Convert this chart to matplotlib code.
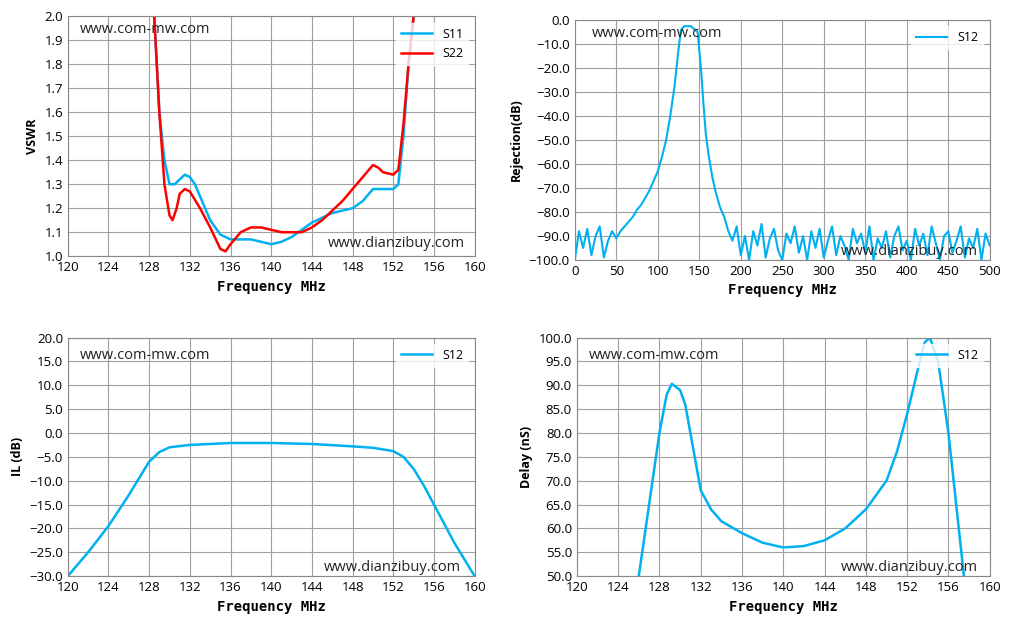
import numpy as np
import matplotlib.pyplot as plt

blue = '#00B0F0'
red = '#FF0000'

# VSWR
vswr_x11 = [128.5, 129, 129.5, 130, 130.5, 131, 131.5, 132, 132.5, 133, 134, 135, 136, 137, 138, 139, 140,
            141, 142, 143, 144, 145, 146, 147, 148, 149, 150, 151, 152, 152.5, 153, 153.5, 154]
vswr_s11 = [2.0, 1.6, 1.4, 1.3, 1.3, 1.32, 1.34, 1.33, 1.3, 1.25, 1.15, 1.09, 1.07, 1.07, 1.07, 1.06, 1.05,
            1.06, 1.08, 1.11, 1.14, 1.16, 1.18, 1.19, 1.2, 1.23, 1.28, 1.28, 1.28, 1.3, 1.5, 1.8, 2.0]
vswr_x22 = [128.5, 129, 129.5, 130, 130.3, 130.7, 131, 131.5, 132, 133, 134, 135, 135.5, 136, 137, 138, 139,
            140, 141, 142, 143, 144, 145, 146, 147, 148, 149, 150, 150.5, 151, 152, 152.5, 153, 153.5, 154]
vswr_s22 = [2.0, 1.6, 1.3, 1.17, 1.15, 1.2, 1.26, 1.28, 1.27, 1.2, 1.12, 1.03, 1.02, 1.05, 1.1, 1.12, 1.12,
            1.11, 1.1, 1.1, 1.1, 1.12, 1.15, 1.19, 1.23, 1.28, 1.33, 1.38, 1.37, 1.35, 1.34, 1.36, 1.55, 1.8, 2.0]

# Rejection (wideband)
rej_x = [0, 5, 10, 15, 20, 25, 30, 35, 40, 45, 50, 55, 60, 65, 70, 75, 80, 85, 90, 95, 100, 105, 110,
         115, 120, 125, 128, 132, 140, 148, 152, 155, 158, 162, 166, 170, 175, 180, 185, 190]
rej_y = [-100, -88, -95, -87, -98, -90, -86, -99, -92, -88, -91, -88, -86, -84, -82, -79, -77, -74, -71,
         -67, -63, -57, -50, -40, -28, -12, -4, -2.5, -2.5, -5, -20, -35, -48, -58, -66, -72, -78, -82, -88, -92]
rej_tail = [-86, -98, -90, -100, -88, -94, -85, -99, -91, -87, -96, -100, -89, -93, -86, -97, -90, -100,
            -88, -95, -87, -99, -92, -86, -98, -90, -94, -100, -87, -93, -89, -97, -86, -100, -91, -95,
            -88, -99, -90, -86, -96, -92, -100, -87, -94, -89, -98, -86, -93, -100, -90, -88, -97, -92,
            -86, -99, -91, -95, -87, -100, -89, -94]

# Insertion loss
il_x = [120, 122, 124, 126, 127, 128, 129, 130, 132, 136, 140, 144, 148, 150, 152, 153, 154, 155, 156, 158, 160]
il_y = [-30, -25, -19.5, -13, -9.5, -6, -4, -3, -2.5, -2.1, -2.1, -2.3, -2.8, -3.1, -3.8, -5, -7.5, -11, -15, -23, -30]

# Group delay
dl_x = [126, 127, 128, 128.7, 129.2, 130, 130.5, 131, 132, 133, 134, 136, 138, 140, 142, 144, 146, 148,
        150, 151, 152, 153, 153.7, 154.2, 155, 156, 157, 157.5]
dl_y = [50, 65, 80, 88, 90.3, 89, 86, 80, 68, 64, 61.5, 59, 57, 56, 56.3, 57.5, 60, 64, 70, 76, 84, 93,
        99, 100, 95, 80, 60, 50]

plt.rcParams['font.family'] = ['Open Sans', 'DejaVu Sans']
plt.rcParams['font.size'] = 9.5
fig = plt.figure(figsize=(10.12, 6.31), dpi=100)
xfont = dict(family='DejaVu Sans Mono', fontweight='bold', fontsize=10)
wm = dict(fontsize=10.5, color='#222222')

def style(ax, ylabel, xlabel='Frequency MHz'):
    ax.grid(True, color='#a0a0a0', lw=0.8)
    ax.set_axisbelow(True)
    for s in ax.spines.values():
        s.set_color('#888888')
    ax.tick_params(length=0)
    ax.set_ylabel(ylabel, fontsize=9, fontweight='bold')
    ax.set_xlabel(xlabel, **xfont)
    ax.legend(loc='upper right', fancybox=False, edgecolor='white', fontsize=9, handlelength=2.5)

# panel 1
ax1 = fig.add_axes([0.067, 0.594, 0.402, 0.38])
ax1.plot(vswr_x11, vswr_s11, color=blue, lw=1.8, label='S11')
ax1.plot(vswr_x22, vswr_s22, color=red, lw=1.8, label='S22')
ax1.set_xlim(120, 160); ax1.set_ylim(1.0, 2.0)
ax1.set_xticks(np.arange(120, 161, 4)); ax1.set_yticks(np.arange(1.0, 2.01, 0.1))
ax1.yaxis.set_major_formatter('{x:.1f}')
style(ax1, 'VSWR')
ax1.text(0.03, 0.93, 'www.com-mw.com', transform=ax1.transAxes, **wm)
ax1.text(0.64, 0.04, 'www.dianzibuy.com', transform=ax1.transAxes, **wm)

# panel 2
ax2 = fig.add_axes([0.568, 0.588, 0.41, 0.38])
rx = rej_x + list(range(195, 501, 5))
ry = rej_y + rej_tail
ax2.plot(rx, ry, color=blue, lw=1.5, label='S12')
ax2.set_xlim(0, 500); ax2.set_ylim(-100, 0)
ax2.set_xticks(np.arange(0, 501, 50)); ax2.set_yticks(np.arange(-100, 1, 10))
ax2.yaxis.set_major_formatter('{x:.1f}')
style(ax2, 'Rejection(dB)')
ax2.text(0.04, 0.93, 'www.com-mw.com', transform=ax2.transAxes, **wm)
ax2.text(0.64, 0.02, 'www.dianzibuy.com', transform=ax2.transAxes, **wm)

# panel 3
ax3 = fig.add_axes([0.067, 0.087, 0.402, 0.378])
ax3.plot(il_x, il_y, color=blue, lw=1.8, label='S12')
ax3.set_xlim(120, 160); ax3.set_ylim(-30, 20)
ax3.set_xticks(np.arange(120, 161, 4)); ax3.set_yticks(np.arange(-30, 20.1, 5))
ax3.yaxis.set_major_formatter('{x:.1f}')
style(ax3, 'IL (dB)')
ax3.text(0.03, 0.91, 'www.com-mw.com', transform=ax3.transAxes, **wm)
ax3.text(0.63, 0.02, 'www.dianzibuy.com', transform=ax3.transAxes, **wm)

# panel 4
ax4 = fig.add_axes([0.57, 0.087, 0.408, 0.378])
ax4.plot(dl_x, dl_y, color=blue, lw=1.8, label='S12')
ax4.set_xlim(120, 160); ax4.set_ylim(50, 100)
ax4.set_xticks(np.arange(120, 161, 4)); ax4.set_yticks(np.arange(50, 100.1, 5))
ax4.yaxis.set_major_formatter('{x:.1f}')
style(ax4, 'Delay (nS)')
ax4.text(0.03, 0.91, 'www.com-mw.com', transform=ax4.transAxes, **wm)
ax4.text(0.64, 0.02, 'www.dianzibuy.com', transform=ax4.transAxes, **wm)

fig.savefig('out.png', dpi=100)
